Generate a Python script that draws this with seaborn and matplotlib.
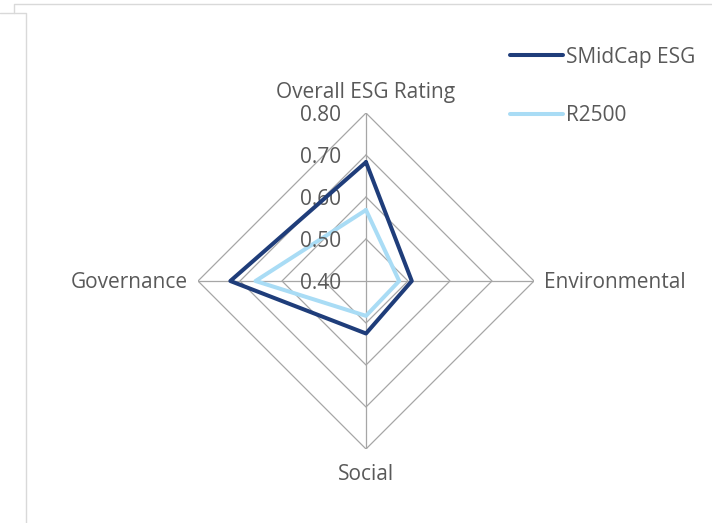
import numpy as np
import pandas as pd
import seaborn as sns
import matplotlib
matplotlib.use("Agg")
import matplotlib.pyplot as plt
from matplotlib.lines import Line2D

categories = ["Overall ESG Rating", "Environmental", "Social", "Governance"]
smidcap_esg = [0.683, 0.509, 0.525, 0.723]
r2500 = [0.569, 0.479, 0.483, 0.663]
series_names = ["SMidCap ESG", "R2500"]
tick_values = [0.40, 0.50, 0.60, 0.70, 0.80]
tick_labels = ["0.40", "0.50", "0.60", "0.70", "0.80"]

sns.set_theme(style="white")
plt.rcParams["font.family"] = ["Open Sans", "DejaVu Sans"]

W, H = 712, 523
fig = plt.figure(figsize=(W / 100, H / 100), dpi=100)
cx, cy, R = 366, 281, 168
ax = fig.add_axes([(cx - R) / W, (H - cy - R) / H, 2 * R / W, 2 * R / H], projection="polar")
ax.set_theta_zero_location("N")
ax.set_theta_direction(-1)
ax.set_ylim(tick_values[0], tick_values[-1])
ax.grid(False)
ax.spines["polar"].set_visible(False)
ax.set_xticks([])
ax.set_yticks([])
ax.patch.set_alpha(0)

n = len(categories)
angles = np.arange(n) * 2 * np.pi / n
closed = np.append(angles, 2 * np.pi)

grid_col = "#a6a6a6"
for r in tick_values[1:]:
    ax.plot(closed, [r] * (n + 1), color=grid_col, lw=0.9, zorder=1)
for a in angles:
    ax.plot([a, a], [tick_values[0], tick_values[-1]], color=grid_col, lw=0.9, zorder=1)

colors = ["#1f3d7a", "#a9dcf5"]
rows = []
for name, vals in zip(series_names, [smidcap_esg, r2500]):
    v = list(vals) + [vals[0]]
    for a, val in zip(closed, v):
        rows.append({"series": name, "theta": a, "value": val})
df = pd.DataFrame(rows)
for name, col, z in zip(series_names[::-1], colors[::-1], [2, 3]):
    sub = df[df.series == name]
    sns.lineplot(data=sub, x="theta", y="value", sort=False, estimator=None,
                 color=col, lw=2.9, ax=ax, legend=False, zorder=z)
ax.set_xlabel("")
ax.set_ylabel("")

txt_col = "#595959"
fs = 15
for v, lab in zip(tick_values, tick_labels):
    ax.annotate(lab, xy=(0, v), xytext=(-18, -1.5), textcoords="offset points",
                ha="right", va="center", fontsize=fs, color=txt_col, zorder=2)

ax.annotate(categories[0], xy=(0, 0.8), xytext=(0, 7), textcoords="offset points",
            ha="center", va="bottom", fontsize=fs, color=txt_col, annotation_clip=False)
ax.annotate(categories[1], xy=(angles[1], 0.8), xytext=(7, -1), textcoords="offset points",
            ha="left", va="center", fontsize=fs, color=txt_col, annotation_clip=False)
ax.annotate(categories[2], xy=(angles[2], 0.8), xytext=(0, -11), textcoords="offset points",
            ha="center", va="top", fontsize=fs, color=txt_col, annotation_clip=False)
ax.annotate(categories[3], xy=(angles[3], 0.8), xytext=(-7, -1), textcoords="offset points",
            ha="right", va="center", fontsize=fs, color=txt_col, annotation_clip=False)

handles = [Line2D([], [], color=c, lw=2.9) for c in colors]
leg = fig.legend(handles, series_names, loc="upper left",
                 bbox_to_anchor=(491 / W, 1 - 28 / H), frameon=False, fontsize=fs,
                 labelcolor=txt_col, handlelength=2.55, handletextpad=0.15,
                 labelspacing=1.79)

def fl(xs, ys):
    fig.add_artist(Line2D([x / W for x in xs], [1 - y / H for y in ys],
                          color="#d9d9d9", lw=1.0, transform=fig.transFigure))

fl([0, 26, 26], [13, 13, H])
fl([14, 14, W], [13, 4, 4])

fig.savefig("out.png", dpi=100)
